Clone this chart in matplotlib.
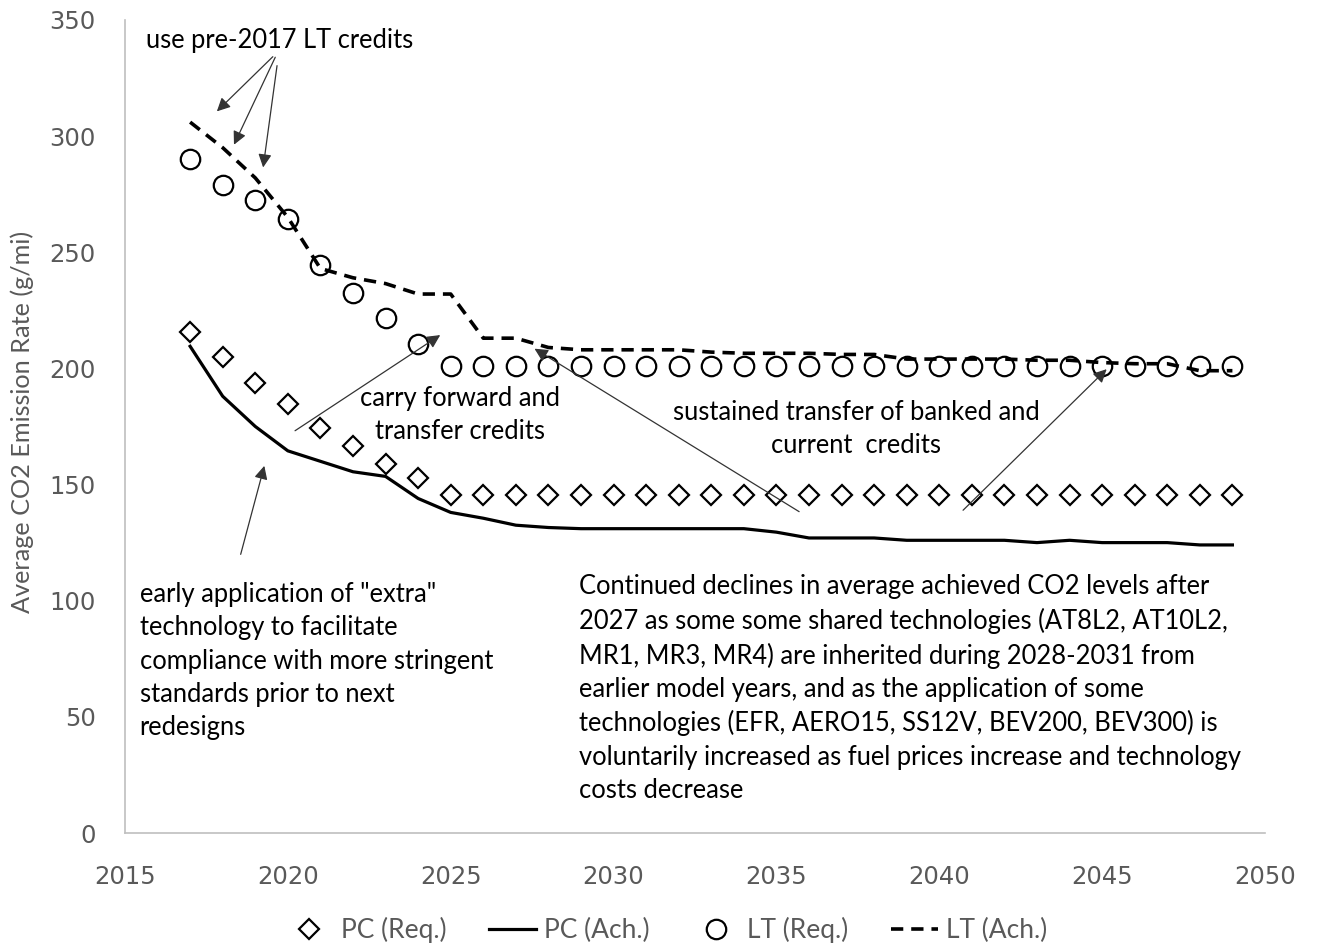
import matplotlib
matplotlib.use("Agg")
import matplotlib.pyplot as plt

years = list(range(2017, 2050))

pc_req = [215.5, 205, 193.5, 184.5, 174.5, 166.5, 159, 153] + [145.5] * 25

pc_ach = [209.5, 188, 175, 164.5, 160, 155.5, 153.5, 144, 138, 135.5, 132.5,
          131.5, 131, 131, 131, 131, 131, 131, 129.5, 127, 127, 127, 126, 126,
          126, 126, 125, 126, 125, 125, 125, 124, 124]

lt_req = [290, 279, 272.5, 264.5, 244.5, 232.5, 221.5, 210.5] + [201] * 25

lt_ach = [306, 295, 282, 265, 243, 239, 236.5, 232, 232, 213, 213, 209, 208,
          208, 208, 208, 207, 206.5, 206.5, 206.5, 206, 206, 204, 204, 204,
          204, 203.5, 203.5, 202.5, 202, 202, 199, 199]

x_ticks = [2015, 2020, 2025, 2030, 2035, 2040, 2045, 2050]
y_ticks = [0, 50, 100, 150, 200, 250, 300, 350]

FONT = ["Lato", "DejaVu Sans"]
plt.rcParams["font.family"] = FONT
GRAY = "#595959"

fig = plt.figure(figsize=(13.17, 9.48), dpi=100)
ax = fig.add_axes([0.0949, 0.1213, 0.8656, 0.8577])

ax.plot(years, pc_req, linestyle="none", marker="D", markersize=10,
        markerfacecolor="white", markeredgecolor="black", markeredgewidth=1.6,
        label="PC (Req.)", zorder=3)
ax.plot(years, pc_ach, color="black", linewidth=2.3, label="PC (Ach.)", zorder=2)
ax.plot(years, lt_req, linestyle="none", marker="o", markersize=14,
        markerfacecolor="none", markeredgecolor="black", markeredgewidth=1.6,
        label="LT (Req.)", zorder=3)
ax.plot(years, lt_ach, color="black", linewidth=2.6, linestyle=(0, (3.4, 2.2)),
        label="LT (Ach.)", zorder=2)

ax.set_xlim(2015, 2050)
ax.set_ylim(0, 350)
ax.set_xticks(x_ticks)
ax.set_yticks(y_ticks)
ax.tick_params(axis="both", length=0, labelsize=17.5, colors=GRAY)
ax.tick_params(axis="y", pad=21)
ax.tick_params(axis="x", pad=23)
for lab in ax.get_xticklabels() + ax.get_yticklabels():
    lab.set_fontfamily("DejaVu Sans")
for side in ("top", "right"):
    ax.spines[side].set_visible(False)
for side in ("left", "bottom"):
    ax.spines[side].set_color("#bfbfbf")
    ax.spines[side].set_linewidth(1.2)

ax.set_ylabel("Average CO2 Emission Rate (g/mi)", fontsize=18.2, color=GRAY,
              va="center", ha="center")
ax.yaxis.set_label_coords(-0.0904, 0.505)

TXT = 18.4
LS = 1.41
arrow_kw = dict(arrowstyle="-|>", color="#333333", lw=0.9, mutation_scale=20)

# use pre-2017 LT credits
ax.text(2019.75, 341, "use pre-2017 LT credits", fontsize=TXT, ha="center", va="center")
for head, tail in [((2017.76, 309.8), (2019.6, 335.0)),
                   ((2018.31, 295.2), (2019.65, 335.0)),
                   ((2019.23, 285.3), (2019.68, 331.5))]:
    ax.annotate("", xy=head, xytext=tail, arrowprops=arrow_kw)

# carry forward
ax.text(2025.3, 180, "carry forward and\ntransfer credits", fontsize=TXT,
        ha="center", va="center", linespacing=LS)
ax.annotate("", xy=(2024.75, 215), xytext=(2020.15, 172.5), arrowprops=arrow_kw)

# early application
ax.text(2015.45, 108, 'early application of "extra"\ntechnology to facilitate\n'
        'compliance with more stringent\nstandards prior to next\nredesigns',
        fontsize=TXT, ha="left", va="top", linespacing=LS)
ax.annotate("", xy=(2019.3, 159.2), xytext=(2018.53, 118.8), arrowprops=arrow_kw)

# sustained transfer
ax.text(2037.45, 174, "sustained transfer of banked and\ncurrent  credits", fontsize=TXT,
        ha="center", va="center", linespacing=LS)
ax.annotate("", xy=(2027.5, 209.1), xytext=(2035.77, 137.7), arrowprops=arrow_kw)
ax.annotate("", xy=(2045.2, 200.5), xytext=(2040.67, 138.1), arrowprops=arrow_kw)

# continued declines
ax.text(2028.95, 111.5, "Continued declines in average achieved CO2 levels after\n"
        "2027 as some some shared technologies (AT8L2, AT10L2,\n"
        "MR1, MR3, MR4) are inherited during 2028-2031 from\n"
        "earlier model years, and as the application of some\n"
        "technologies (EFR, AERO15, SS12V, BEV200, BEV300) is\n"
        "voluntarily increased as fuel prices increase and technology\n"
        "costs decrease", fontsize=TXT, ha="left", va="top", linespacing=LS)

leg = fig.legend(loc="center", bbox_to_anchor=(0.506, 0.019), ncol=4, frameon=False,
                 fontsize=19, handlelength=1.8, columnspacing=1.6, handletextpad=0.3)
for t in leg.get_texts():
    t.set_color(GRAY)

fig.savefig("out.png", dpi=100)
